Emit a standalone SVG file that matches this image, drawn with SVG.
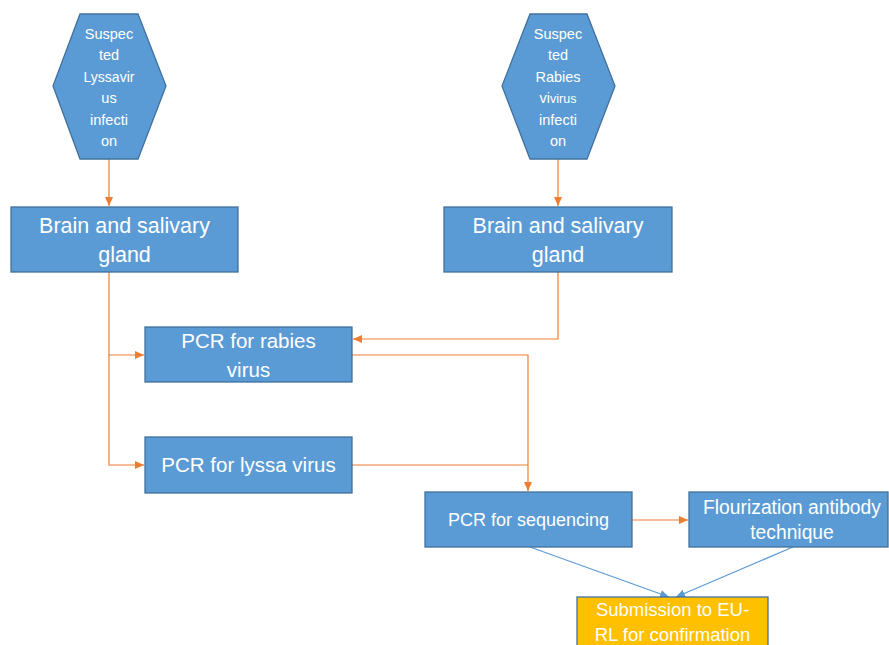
<svg xmlns="http://www.w3.org/2000/svg" width="889" height="645" viewBox="0 0 889 645">
<defs>
<style>
.node{fill:#5B9BD5;stroke:#41719C;stroke-width:1.3}
.gold{fill:#FFC000;stroke:#41719C;stroke-width:1.3}
.t{font-family:"Liberation Sans",Arial,sans-serif;fill:#ffffff;text-anchor:middle}
.oc{fill:none;stroke:#ED7D31;stroke-width:1.2}
.bc{fill:none;stroke:#5B9BD5;stroke-width:1.2}
</style>
<marker id="ao" markerWidth="9" markerHeight="8" refX="9" refY="4" orient="auto" markerUnits="userSpaceOnUse"><path d="M0,0 L9,4 L0,8 Z" fill="#ED7D31"/></marker>
<marker id="ab" markerWidth="9" markerHeight="8" refX="9" refY="4" orient="auto" markerUnits="userSpaceOnUse"><path d="M0,0 L9,4 L0,8 Z" fill="#5B9BD5"/></marker>
</defs>
<rect width="889" height="645" fill="#ffffff"/>
<g id="connectors">
<path class="oc" d="M109,159 L109,206" marker-end="url(#ao)"/>
<path class="oc" d="M558,159 L558,206" marker-end="url(#ao)"/>
<path class="oc" d="M109,272 L109,465 L144,465" marker-end="url(#ao)"/>
<path class="oc" d="M109,355 L144,355" marker-end="url(#ao)"/>
<path class="oc" d="M558,272 L558,339 L353,339" marker-end="url(#ao)"/>
<path class="oc" d="M352,355 L528,355 L528,491" marker-end="url(#ao)"/>
<path class="oc" d="M352,465 L528,465"/>
<path class="oc" d="M632,520 L688,520" marker-end="url(#ao)"/>
<path class="bc" d="M530,547 L669,597" marker-end="url(#ab)"/>
<path class="bc" d="M793,547 L676,597" marker-end="url(#ab)"/>
</g>
<g id="hex1">
<polygon class="node" points="80,14 138,14 166,86 138,159 80,159 53,86"/>
<text class="t" font-size="14.5"><tspan x="109" y="39">Suspec</tspan><tspan x="109" y="60">ted</tspan><tspan x="109" y="82" font-size="14">Lyssavir</tspan><tspan x="109" y="103">us</tspan><tspan x="109" y="125">infecti</tspan><tspan x="109" y="146">on</tspan></text>
</g>
<g id="hex2">
<polygon class="node" points="530,14 587,14 615,86 587,159 530,159 502,86"/>
<text class="t" font-size="14.5"><tspan x="558" y="39">Suspec</tspan><tspan x="558" y="60">ted</tspan><tspan x="558" y="82">Rabies</tspan><tspan x="558" y="103">vi<tspan font-size="12.5">virus</tspan></tspan><tspan x="558" y="125">infecti</tspan><tspan x="558" y="146">on</tspan></text>
</g>
<g id="brain1">
<rect class="node" x="11" y="207" width="227" height="65"/>
<text class="t" font-size="21.5"><tspan x="124.5" y="233">Brain and salivary</tspan><tspan x="124.5" y="262">gland</tspan></text>
</g>
<g id="brain2">
<rect class="node" x="444" y="207" width="228" height="65"/>
<text class="t" font-size="21.5"><tspan x="558" y="233">Brain and salivary</tspan><tspan x="558" y="262">gland</tspan></text>
</g>
<g id="pcr-rabies">
<rect class="node" x="145" y="327" width="207" height="55"/>
<text class="t" font-size="20.5"><tspan x="248.5" y="348">PCR for rabies</tspan><tspan x="248.5" y="377">virus</tspan></text>
</g>
<g id="pcr-lyssa">
<rect class="node" x="145" y="437" width="207" height="56"/>
<text class="t" font-size="20.5" x="248.5" y="472">PCR for lyssa virus</text>
</g>
<g id="pcr-seq">
<rect class="node" x="425" y="492" width="207" height="55"/>
<text class="t" font-size="18" x="528.5" y="526">PCR for sequencing</text>
</g>
<g id="flour">
<rect class="node" x="689" y="492" width="199" height="55"/>
<text class="t" font-size="19.3"><tspan x="792" y="514">Flourization antibody</tspan><tspan x="792" y="539">technique</tspan></text>
</g>
<g id="submission">
<rect class="gold" x="577" y="597" width="191" height="60"/>
<text class="t" font-size="18.5"><tspan x="672.5" y="616">Submission to EU-</tspan><tspan x="672.5" y="641">RL for confirmation</tspan></text>
</g>
</svg>
